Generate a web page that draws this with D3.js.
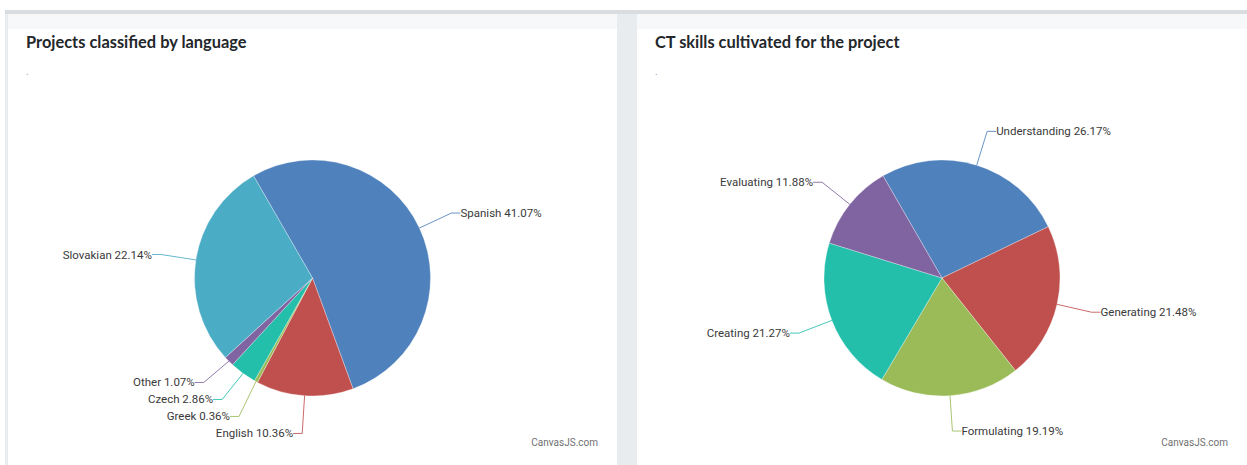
<!DOCTYPE html>
<html>
<head>
<meta charset="utf-8">
<script src="https://cdn.jsdelivr.net/npm/d3@7"></script>
<style>
  html, body { margin: 0; padding: 0; background: #ffffff; }
  svg { display: block; }
</style>
</head>
<body>
<svg id="chart" width="1247" height="465"></svg>
<script>
// ---- data ----
const languageNames = ["Spanish", "English", "Greek", "Czech", "Other", "Slovakian"];
const languageValues = [41.07, 10.36, 0.36, 2.86, 1.07, 22.14];
const skillNames = ["Understanding", "Generating", "Formulating", "Creating", "Evaluating"];
const skillValues = [26.17, 21.48, 19.19, 21.27, 11.88];
const titles = ["Projects classified by language", "CT skills cultivated for the project"];
const palette = ["#4F81BC", "#C0504E", "#9BBB58", "#23BFAA", "#8064A1", "#4AACC5"];

// ---- layout ----
const W = 1247, H = 465;
const svg = d3.select("#chart");

// page background
svg.append("rect").attr("x", 0).attr("y", 0).attr("width", W).attr("height", H).attr("fill", "#ffffff");
svg.append("rect").attr("x", 5).attr("y", 10).attr("width", W - 5).attr("height", H - 10).attr("fill", "#e9ecef");
svg.append("rect").attr("x", 5).attr("y", 10).attr("width", W - 5).attr("height", 4).attr("fill", "#dadde0");

const cards = [
  { x: 8, w: 609, names: languageNames, values: languageValues, title: titles[0] },
  { x: 637, w: 610, names: skillNames, values: skillValues, title: titles[1] }
];

const cardTop = 14;
const pieCY = 278;
const radius = 118;

cards.forEach(card => {
  const g = svg.append("g");
  g.append("rect").attr("x", card.x).attr("y", cardTop).attr("width", card.w).attr("height", H - cardTop).attr("fill", "#ffffff");
  g.append("rect").attr("x", card.x).attr("y", cardTop).attr("width", card.w).attr("height", 15).attr("fill", "#f7f8f9");

  g.append("text")
    .attr("x", card.x + 18).attr("y", 48)
    .attr("font-family", "Lato, sans-serif").attr("font-weight", 700).attr("font-size", 16.4)
    .attr("fill", "#23272b")
    .text(card.title);

  g.append("text")
    .attr("x", card.x + 18).attr("y", 75)
    .attr("font-family", "Roboto, sans-serif").attr("font-size", 10)
    .attr("fill", "#9aa0b4")
    .text(".");

  g.append("text")
    .attr("x", card.x + card.w - 19).attr("y", 446)
    .attr("text-anchor", "end")
    .attr("font-family", "Roboto, sans-serif").attr("font-size", 10)
    .attr("fill", "#707070")
    .text("CanvasJS.com");

  const cx = card.x + card.w / 2;
  const pg = g.append("g").attr("transform", `translate(${cx},${pieCY})`);

  const pie = d3.pie().sort(null).value(d => d)
    .startAngle(-Math.PI / 6).endAngle(2 * Math.PI - Math.PI / 6);
  const arcs = pie(card.values);
  const arcGen = d3.arc().innerRadius(0).outerRadius(radius);

  pg.selectAll("path.slice").data(arcs).enter().append("path")
    .attr("class", "slice")
    .attr("d", arcGen)
    .attr("fill", (d, i) => palette[i])
    .attr("stroke", "#ffffff").attr("stroke-opacity", 0.5).attr("stroke-width", 0.6);

  // labels with simple collision relaxation
  const labels = arcs.map((a, i) => {
    const mid = (a.startAngle + a.endAngle) / 2;
    const sx = Math.sin(mid), sy = -Math.cos(mid);
    return {
      i,
      side: sx >= 0 ? 1 : -1,
      ex: radius * sx, ey: radius * sy,
      bx: radius * 1.3 * sx, by: radius * 1.3 * sy,
      y: radius * 1.3 * sy,
      text: `${card.names[i]} ${card.values[i].toFixed(2)}%`
    };
  });
  const gap = 17;
  [1, -1].forEach(side => {
    const items = labels.filter(l => l.side === side).sort((a, b) => a.y - b.y);
    for (let iter = 0; iter < 300; iter++) {
      let moved = false;
      for (let k = 1; k < items.length; k++) {
        const d = items[k].y - items[k - 1].y;
        if (d < gap) {
          const push = (gap - d) / 2;
          items[k].y += push; items[k - 1].y -= push; moved = true;
        }
      }
      if (!moved) break;
    }
  });

  labels.forEach(l => {
    const hx = l.bx + l.side * 9;
    pg.append("polyline")
      .attr("points", `${l.ex},${l.ey} ${l.bx},${l.y} ${hx},${l.y}`)
      .attr("fill", "none")
      .attr("stroke", palette[l.i]).attr("stroke-opacity", 0.85).attr("stroke-width", 1);
    pg.append("text")
      .attr("x", hx).attr("y", l.y)
      .attr("dy", "0.35em")
      .attr("text-anchor", l.side > 0 ? "start" : "end")
      .attr("font-family", "Roboto, sans-serif").attr("font-size", 11.5)
      .attr("fill", "#3a3a3a")
      .text(l.text);
  });
});
</script>
</body>
</html>
